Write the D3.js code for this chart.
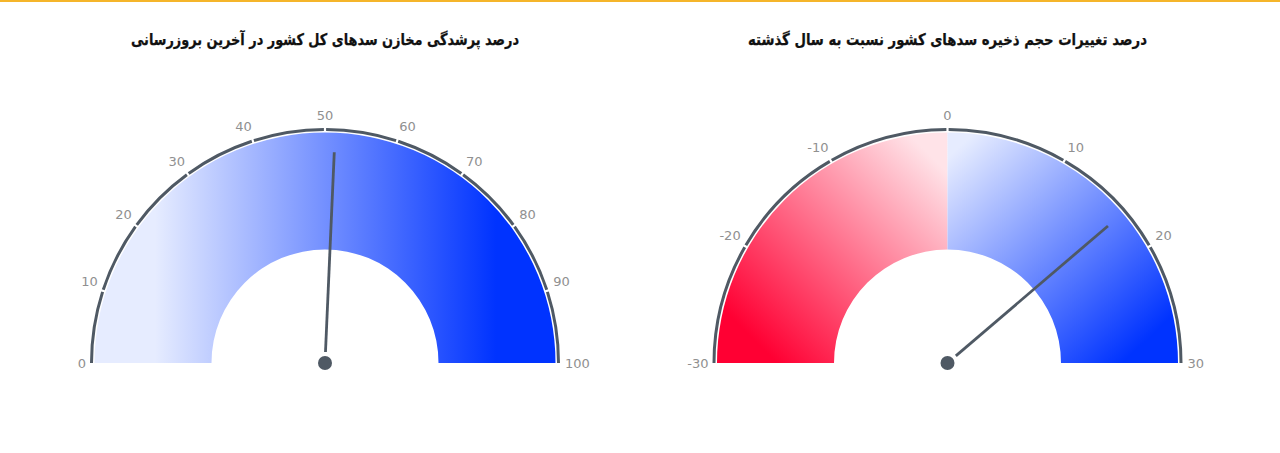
<!DOCTYPE html>
<html>
<head>
<meta charset="utf-8">
<script src="https://cdn.jsdelivr.net/npm/d3@7"></script>
<style>
  html, body { margin: 0; padding: 0; background: #fff; overflow: hidden; }
  svg { display: block; }
  .title { font-family: "DejaVu Sans", sans-serif; font-weight: bold; font-size: 16px; fill: #111; stroke: #111; stroke-width: 0.25px; }
  .tick { font-family: "DejaVu Sans", sans-serif; font-size: 13px; fill: #909090; }
</style>
</head>
<body>
<svg id="chart" width="1280" height="453"></svg>
<script>
// Values
var leftTitle = "درصد پرشدگی مخازن سدهای کل کشور در آخرین بروزرسانی";
var leftDomain = [0, 100];
var leftTicks = [0, 10, 20, 30, 40, 50, 60, 70, 80, 90, 100];
var leftValue = 51.4;

var rightTitle = "درصد تغییرات حجم ذخیره سدهای کشور نسبت به سال گذشته";
var rightDomain = [-30, 30];
var rightTicks = [-30, -20, -10, 0, 10, 20, 30];
var rightValue = 16.5;

var svg = d3.select("#chart");
var defs = svg.append("defs");

// top border
svg.append("rect").attr("width", 1280).attr("height", 2).attr("fill", "#f5b52a");

var outerR = 230.5, innerR = 113.5, ringR = 233.5, labelR = 240;
var cy = 363;

// gradient coordinates are relative to the gauge centre
function addGradient(id, x1, y1, x2, y2, c1, c2) {
  var g = defs.append("linearGradient")
    .attr("id", id)
    .attr("gradientUnits", "userSpaceOnUse")
    .attr("x1", x1).attr("y1", y1).attr("x2", x2).attr("y2", y2);
  g.append("stop").attr("offset", 0).attr("stop-color", c1);
  g.append("stop").attr("offset", 1).attr("stop-color", c2);
}

addGradient("gradLeft", -170, 0, 171, 0, "#e6ecff", "#0033ff");
addGradient("gradUp", 14, -218, 198, -22, "#e6ecff", "#0033ff");
addGradient("gradDown", -10, -200, -190, -20, "#ffe3e8", "#ff0033");

function drawGauge(cx, title, titleWidth, domain, ticks, value, bands) {
  var g = svg.append("g").attr("transform", "translate(" + cx + "," + cy + ")");
  var angle = d3.scaleLinear().domain(domain).range([-Math.PI / 2, Math.PI / 2]);
  var arc = d3.arc();

  svg.append("text")
    .attr("class", "title")
    .attr("x", cx)
    .attr("y", 45)
    .attr("text-anchor", "middle")
    .attr("direction", "rtl")
    .attr("textLength", titleWidth)
    .attr("lengthAdjust", "spacingAndGlyphs")
    .text(title);

  // coloured band
  g.selectAll("path.band")
    .data(bands)
    .enter()
    .append("path")
    .attr("class", "band")
    .attr("d", function (d) {
      return arc({
        innerRadius: innerR,
        outerRadius: outerR,
        startAngle: angle(d.from),
        endAngle: angle(d.to),
      });
    })
    .attr("fill", function (d) { return d.fill; });

  // axis ring, broken at each tick
  var gap = 1.1 / ringR;
  for (var i = 0; i < ticks.length - 1; i++) {
    g.append("path")
      .attr("d", arc({
        innerRadius: ringR - 1.5,
        outerRadius: ringR + 1.5,
        startAngle: angle(ticks[i]) + (i === 0 ? 0 : gap),
        endAngle: angle(ticks[i + 1]) - (i === ticks.length - 2 ? 0 : gap),
      }))
      .attr("fill", "#4f5964");
  }

  // tick labels: anchored by side, like a polar axis
  g.selectAll("text.tick")
    .data(ticks)
    .enter()
    .append("text")
    .attr("class", "tick")
    .attr("text-anchor", function (d) {
      var s = Math.sin(angle(d));
      return Math.abs(s) < 0.01 ? "middle" : s < 0 ? "end" : "start";
    })
    .attr("dy", "0.36em")
    .attr("x", function (d) {
      var s = Math.sin(angle(d));
      return labelR * s + (s < -0.01 ? 1 : 0);
    })
    .attr("y", function (d) {
      var c = Math.cos(angle(d));
      return -labelR * c - (c > 0.01 ? 8 : 0);
    })
    .text(function (d) { return d; });

  // needle
  var a = angle(value);
  g.append("line")
    .attr("x1", 11 * Math.sin(a))
    .attr("y1", -11 * Math.cos(a))
    .attr("x2", 211 * Math.sin(a))
    .attr("y2", -211 * Math.cos(a))
    .attr("stroke", "#4f5964")
    .attr("stroke-width", 2.8);
  g.append("circle").attr("r", 7).attr("fill", "#4f5964");
}

drawGauge(325, leftTitle, 388, leftDomain, leftTicks, leftValue, [
  { from: 0, to: 100, fill: "url(#gradLeft)" },
]);
drawGauge(947.5, rightTitle, 399, rightDomain, rightTicks, rightValue, [
  { from: -30, to: 0, fill: "url(#gradDown)" },
  { from: 0, to: 30, fill: "url(#gradUp)" },
]);
</script>
</body>
</html>
